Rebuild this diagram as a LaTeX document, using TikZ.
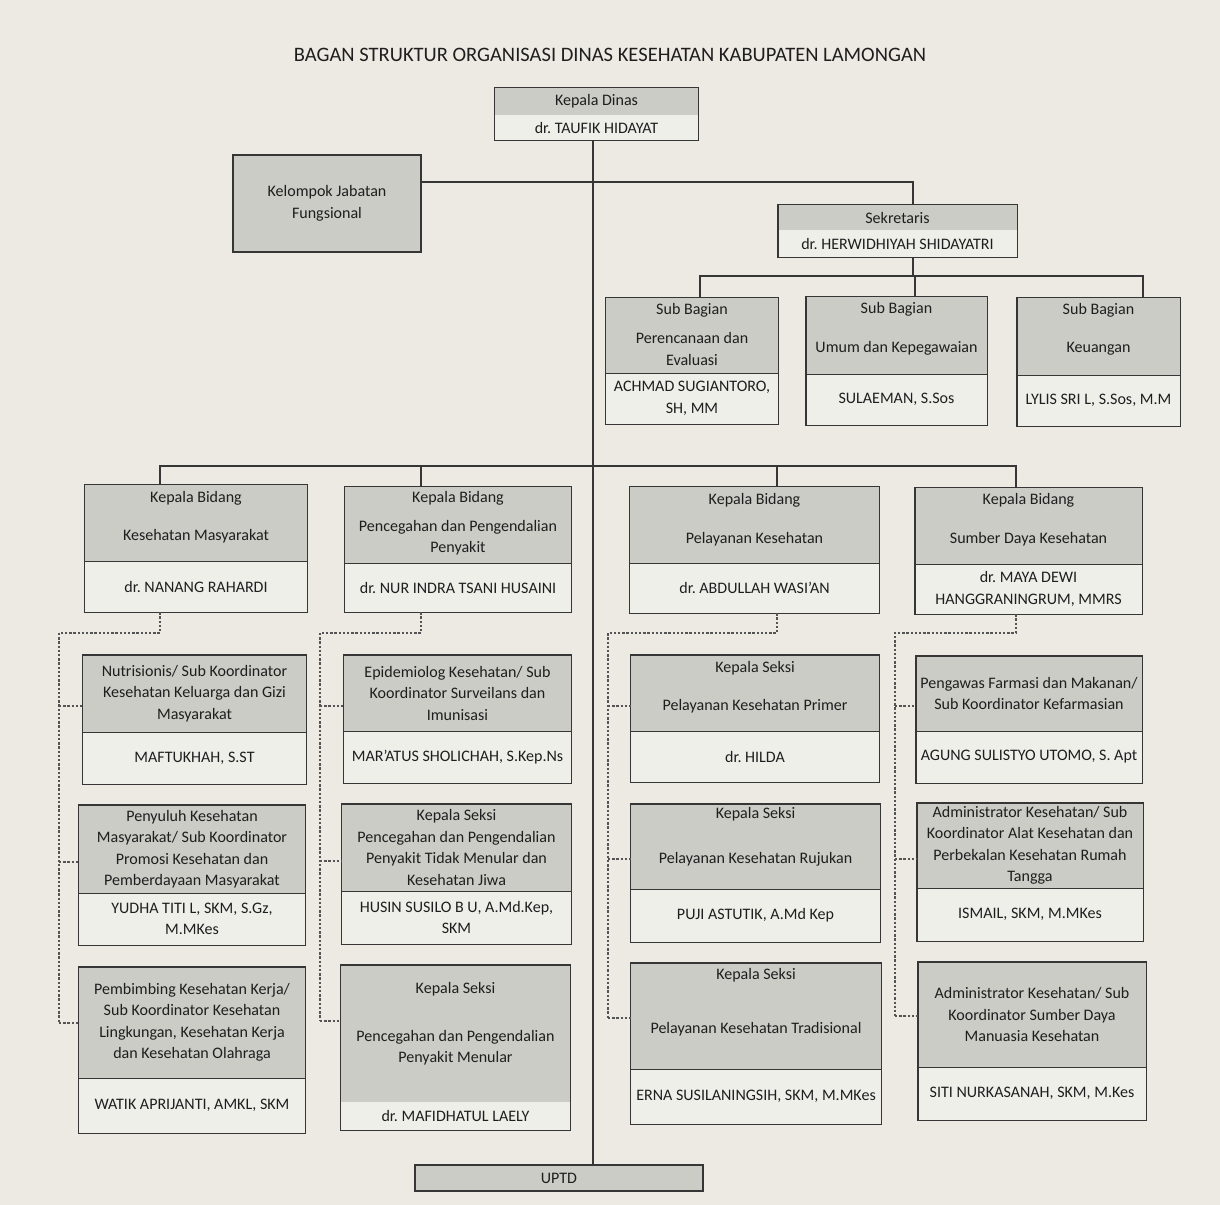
\documentclass[tikz,border=0pt]{standalone}
\usepackage{fontspec}
\setmainfont{Carlito}
\usetikzlibrary{positioning}
\definecolor{paper}{HTML}{ECEAE3}
\definecolor{shade}{HTML}{CBCCC5}
\definecolor{pale}{HTML}{EFEFEA}
\definecolor{ink}{HTML}{1E1E1E}
\definecolor{rule}{HTML}{363636}
\frenchspacing

\begin{document}
\begin{tikzpicture}[
    x=0.25mm, y=-0.25mm,
    every node/.style={font=\fontsize{11.4}{15.3}\selectfont, text=ink},
    txt/.style={align=center, inner sep=0pt},
    hpart/.style={rectangle, fill=shade, inner sep=0pt, align=center},
    npart/.style={rectangle, fill=pale, inner sep=0pt, align=center},
    boxline/.style={draw=rule, line width=1.1pt},
    conn/.style={draw=rule, line width=1.4pt},
    dsh/.style={draw=rule!85, line width=0.8pt, dash pattern=on 0.6mm off 0.45mm},
]

\useasboundingbox (0,0) rectangle (1220,1205);
\fill[paper] (0,0) rectangle (1220,1205);

\node[font=\fontsize{14.6}{17}\selectfont] (title) at (610,55)
     {BAGAN STRUKTUR ORGANISASI DINAS KESEHATAN KABUPATEN LAMONGAN};

% ================================================== the boxes, two parts each
\foreach \id/\xl/\yt/\ym/\xr/\yb/\dv/\htext/\ntext in {
  kadin/495/88/115/698/140/0/{Kepala Dinas}/{dr. TAUFIK HIDAYAT},
  sek/778/205/230/1017/257/0/{Sekretaris}/{dr. HERWIDHIYAH SHIDAYATRI},
  sb1/606/298/373/778/424/1/{}/{ACHMAD SUGIANTORO,\\SH, MM},
  sb2/806/297/374/987/425/1/{}/{SULAEMAN, S.Sos},
  sb3/1017/298/375/1180/426/1/{}/{LYLIS SRI L, S.Sos, M.M},
  a0/85/485/561/307/612/1/{}/{dr. NANANG RAHARDI},
  b0/345/487/563/571/612/1/{}/{dr. NUR INDRA TSANI HUSAINI},
  c0/630/487/563/879/613/1/{}/{dr. ABDULLAH WASI'AN},
  d0/915/488/564/1142/614/1/{}/{dr. MAYA DEWI\\HANGGRANINGRUM, MMRS},
  a1/83/655/732/306/784/1/{Nutrisionis/ Sub Koordinator\\Kesehatan Keluarga dan Gizi\\Masyarakat}/{MAFTUKHAH, S.ST},
  a2/79/805/893/305/945/1/{Penyuluh Kesehatan\\Masyarakat/ Sub Koordinator\\Promosi Kesehatan dan\\Pemberdayaan Masyarakat}/{YUDHA TITI L, SKM, S.Gz,\\M.MKes},
  a3/79/967/1078/305/1133/1/{Pembimbing Kesehatan Kerja/\\Sub Koordinator Kesehatan\\Lingkungan, Kesehatan Kerja\\dan Kesehatan Olahraga}/{WATIK APRIJANTI, AMKL, SKM},
  b1/344/655/731/571/783/1/{Epidemiolog Kesehatan/ Sub\\Koordinator Surveilans dan\\Imunisasi}/{MAR'ATUS SHOLICHAH, S.Kep.Ns},
  b2/342/804/891/571/944/1/{Kepala Seksi\\Pencegahan dan Pengendalian\\Penyakit Tidak Menular dan\\Kesehatan Jiwa}/{HUSIN SUSILO B U, A.Md.Kep,\\SKM},
  b3/341/965/1102/570/1130/0/{}/{dr. MAFIDHATUL LAELY},
  c1/631/655/731/879/782/1/{}/{dr. HILDA},
  c2/631/804/889/880/942/1/{}/{PUJI ASTUTIK, A.Md Kep},
  c3/631/963/1069/881/1124/1/{}/{ERNA SUSILANINGSIH, SKM, M.MKes},
  d1/916/656/731/1142/783/1/{Pengawas Farmasi dan Makanan/\\Sub Koordinator Kefarmasian}/{AGUNG SULISTYO UTOMO, S. Apt},
  d2/917/803/888/1143/941/1/{Administrator Kesehatan/ Sub\\Koordinator Alat Kesehatan dan\\Perbekalan Kesehatan Rumah\\Tangga}/{ISMAIL, SKM, M.MKes},
  d3/918/962/1067/1146/1120/1/{Administrator Kesehatan/ Sub\\Koordinator Sumber Daya\\Manuasia Kesehatan}/{SITI NURKASANAH, SKM, M.Kes}}{
  \node[hpart, minimum width={(\xr-\xl)*0.25mm}, minimum height={(\ym-\yt)*0.25mm}]
       (\id-t) at ({(\xl+\xr)/2}, {(\yt+\ym)/2}) {\htext};
  \node[npart, minimum width={(\xr-\xl)*0.25mm}, minimum height={(\yb-\ym)*0.25mm}]
       (\id-b) at ({(\xl+\xr)/2}, {(\ym+\yb)/2}) {\ntext};
  \draw[boxline] (\id-t.north west) rectangle (\id-b.south east);
  \ifnum\dv=1 \draw[boxline] (\id-t.south west) -- (\id-t.south east); \fi
}

% heading line on top, unit name below it
\foreach \id/\x/\yh/\yn/\hd/\unit in {
  sb1/692/310/349/{Sub Bagian}/{Perencanaan dan\\Evaluasi},
  sb2/896.5/309/348/{Sub Bagian}/{Umum dan Kepegawaian},
  sb3/1098.5/310/349/{Sub Bagian}/{Keuangan},
  a0/196/498/536/{Kepala Bidang}/{Kesehatan Masyarakat},
  b0/458/498/537.5/{Kepala Bidang}/{Pencegahan dan Pengendalian\\Penyakit},
  c0/754.5/500/539/{Kepala Bidang}/{Pelayanan Kesehatan},
  d0/1028.5/500/539/{Kepala Bidang}/{Sumber Daya Kesehatan},
  b3/455.5/989/1047.5/{Kepala Seksi}/{Pencegahan dan Pengendalian\\Penyakit Menular},
  c1/755/668/706/{Kepala Seksi}/{Pelayanan Kesehatan Primer},
  c2/755.5/814/859/{Kepala Seksi}/{Pelayanan Kesehatan Rujukan},
  c3/756/975/1029/{Kepala Seksi}/{Pelayanan Kesehatan Tradisional}}{
  \node[txt] (\id-h) at (\x,\yh) {\hd};
  \node[txt] (\id-u) at (\x,\yn) {\unit};
}

\node[hpart, draw=rule, line width=1.1pt, minimum width=188*0.25mm,
      minimum height=97*0.25mm] (kjf) at (327,203.5) {Kelompok Jabatan\\Fungsional};
\node[hpart, draw=rule, line width=1.1pt, minimum width=288*0.25mm,
      minimum height=26*0.25mm] (uptd) at (559,1178) {UPTD};

% ================================================== solid lines
\coordinate (spine) at (593,0);
\draw[conn] (kadin-b.south -| spine) -- (uptd.north -| spine);

\coordinate (sek-fork) at (913,182);
\draw[conn] (kjf.east |- sek-fork) -- (sek-fork) -- (sek-fork |- sek-t.north);

\coordinate (sb-bus) at (913,276);
\coordinate (sb1-drop) at (700,276);
\coordinate (sb2-drop) at (915,276);
\coordinate (sb3-drop) at (1143,276);
\draw[conn] (sek-b.south -| sb-bus) -- (sb-bus);
\draw[conn] (sb1-drop |- sb1-t.north) -- (sb1-drop) -- (sb3-drop) -- (sb3-drop |- sb3-t.north);
\draw[conn] (sb2-drop) -- (sb2-drop |- sb2-t.north);

\foreach \col/\x in {a/160, b/421, c/777, d/1016}
  \coordinate (\col-drop) at (\x,466);
\draw[conn] (a-drop |- a0-t.north) -- (a-drop) -- (d-drop) -- (d-drop |- d0-t.north);
\draw[conn] (b-drop) -- (b-drop |- b0-t.north);
\draw[conn] (c-drop) -- (c-drop |- c0-t.north);

% ================================================== dashed lines to the seksi
\foreach \id/\x/\y in {a1/59/706, a2/59/862, a3/59/1023, b1/320/706, b2/320/861,
                       b3/320/1021, c1/608/706, c2/608/859, c3/608/1018,
                       d1/895/706, d2/895/859, d3/895/1016}{
  \coordinate (\id-stub) at (\x,\y);
  \draw[dsh] (\id-stub) -- (\id-stub -| \id-t.west);
}
\foreach \col/\x in {a/59, b/320, c/608, d/895}{
  \coordinate (\col-rail) at (\x,633);
  \draw[dsh] (\col-drop |- \col0-b.south) -- (\col-drop |- \col-rail) -- (\col-rail)
             -- (\col-rail |- \col3-stub);
}

\end{tikzpicture}
\end{document}
